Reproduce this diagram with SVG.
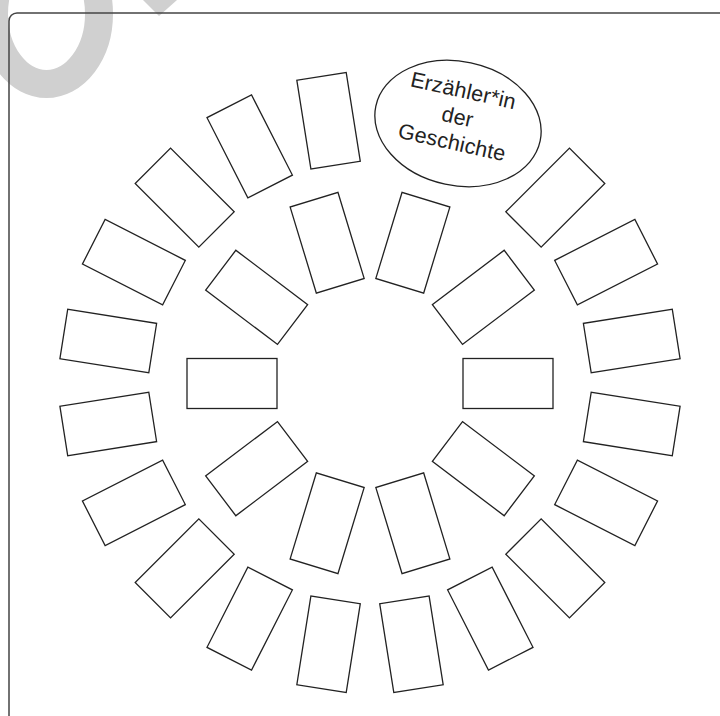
<svg xmlns="http://www.w3.org/2000/svg" width="720" height="716" viewBox="0 0 720 716">
<style>
.card{fill:#fff;stroke:#222;stroke-width:1.3}
.wm{fill:none;stroke:#d0d0d0;stroke-width:28}
.lbl{font-family:"Liberation Sans",Arial,sans-serif;font-size:21.5px;fill:#222;text-anchor:middle;letter-spacing:0.2px}
</style>
<defs>
<rect id="r" x="-45" y="-25" width="90" height="50"/>
</defs>
<rect width="720" height="716" fill="#fff"/>
<g id="watermark">
<ellipse class="wm" cx="46.5" cy="14" rx="52.5" ry="70"/>
<polygon points="143,0 177,0 159,16" fill="#d0d0d0"/>
</g>
<path id="frame" d="M9,716 V21 A8,8 0 0 1 17,13 H720" fill="none" stroke="#444" stroke-width="1.5"/>
<g id="connectors"></g>
<g id="outer">
<g id="o9"><use href="#r" class="card" transform="translate(631.74,423.95) rotate(9)"/></g>
<g id="o27"><use href="#r" class="card" transform="translate(606.12,502.81) rotate(27)"/></g>
<g id="o45"><use href="#r" class="card" transform="translate(555.3,568.3) rotate(45)"/></g>
<g id="o63"><use href="#r" class="card" transform="translate(490.31,618.62) rotate(63)"/></g>
<g id="o81"><use href="#r" class="card" transform="translate(411.45,644.24) rotate(81)"/></g>
<g id="o99"><use href="#r" class="card" transform="translate(328.55,644.24) rotate(99)"/></g>
<g id="o117"><use href="#r" class="card" transform="translate(249.69,618.62) rotate(117)"/></g>
<g id="o135"><use href="#r" class="card" transform="translate(184.7,568.3) rotate(135)"/></g>
<g id="o153"><use href="#r" class="card" transform="translate(133.88,502.81) rotate(153)"/></g>
<g id="o171"><use href="#r" class="card" transform="translate(108.26,423.95) rotate(171)"/></g>
<g id="o189"><use href="#r" class="card" transform="translate(108.26,341.05) rotate(189)"/></g>
<g id="o207"><use href="#r" class="card" transform="translate(133.88,262.19) rotate(207)"/></g>
<g id="o225"><use href="#r" class="card" transform="translate(184.7,197.7) rotate(225)"/></g>
<g id="o243"><use href="#r" class="card" transform="translate(249.69,146.38) rotate(243)"/></g>
<g id="o261"><use href="#r" class="card" transform="translate(328.55,120.76) rotate(261)"/></g>
<g id="o315"><use href="#r" class="card" transform="translate(555.3,197.7) rotate(315)"/></g>
<g id="o333"><use href="#r" class="card" transform="translate(606.12,262.19) rotate(333)"/></g>
<g id="o351"><use href="#r" class="card" transform="translate(631.74,341.05) rotate(351)"/></g>
</g>
<g id="inner">
<g id="i0"><use href="#r" class="card" transform="translate(508,383.5)"/></g>
<g id="i37"><use href="#r" class="card" transform="translate(483.35,468.65) rotate(37.07)"/></g>
<g id="i73"><use href="#r" class="card" transform="translate(412.85,523.25) rotate(73.07)"/></g>
<g id="i107"><use href="#r" class="card" transform="translate(327.15,523.25) rotate(106.93)"/></g>
<g id="i143"><use href="#r" class="card" transform="translate(256.65,468.65) rotate(-37.07)"/></g>
<g id="i180"><use href="#r" class="card" transform="translate(232,383.5)"/></g>
<g id="i217"><use href="#r" class="card" transform="translate(256.65,297.35) rotate(37.07)"/></g>
<g id="i253"><use href="#r" class="card" transform="translate(327.15,242.75) rotate(73.07)"/></g>
<g id="i287"><use href="#r" class="card" transform="translate(412.85,242.75) rotate(106.93)"/></g>
<g id="i323"><use href="#r" class="card" transform="translate(483.35,297.35) rotate(-37.07)"/></g>
</g>
<g id="narrator">
<ellipse cx="458" cy="123.5" rx="84" ry="62" fill="#fff" stroke="#222" stroke-width="1.3" transform="rotate(12 458 123.5)"/>
<g transform="rotate(12.5 456 124)">
<text class="lbl" x="456" y="97">Erzähler*in</text>
<text class="lbl" x="456" y="124">der</text>
<text class="lbl" x="456" y="150">Geschichte</text>
</g>
</g>
</svg>
